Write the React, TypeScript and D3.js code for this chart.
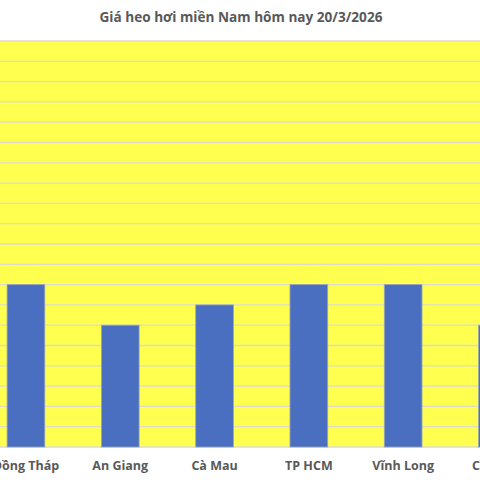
import React, { useEffect, useRef } from "react";
import * as d3 from "d3";

const title = "Giá heo hơi miền Nam hôm nay 20/3/2026";
const categories = ["Đồng Tháp", "An Giang", "Cà Mau", "TP HCM", "Vĩnh Long", "Cần Thơ"];
const prices = [58, 56, 57, 58, 58, 56]; // nghìn đồng/kg
const yMin = 50;
const yMax = 70;
const yTickStep = 1;

const W = 480;
const H = 480;
const plotTop = 41;
const plotBottom = 447;
const bandLeft = -21.2;
const bandRight = 544.6;

export default function App() {
  const ref = useRef<SVGSVGElement | null>(null);
  useEffect(() => {
    document.body.style.margin = "0";
    const svg = d3.select(ref.current);
    svg.selectAll("*").remove();

    const x = d3.scaleBand<string>().domain(categories).range([bandLeft, bandRight]).paddingInner(0.6).paddingOuter(0.3);
    const y = d3.scaleLinear().domain([yMin, yMax]).range([plotBottom, plotTop]);

    svg.append("rect").attr("x", 0).attr("y", 0).attr("width", W).attr("height", H).attr("fill", "#ffffff");
    svg.append("rect").attr("x", 0).attr("y", plotTop).attr("width", W).attr("height", plotBottom - plotTop).attr("fill", "#FFFF50");

    const ticks = d3.range(yMin, yMax + yTickStep / 2, yTickStep);
    svg.append("g").selectAll("line").data(ticks).join("line")
      .attr("x1", 0).attr("x2", W)
      .attr("y1", (d) => y(d)).attr("y2", (d) => y(d))
      .attr("stroke", "#DCDCC8").attr("stroke-width", 1.3);

    svg.append("g").selectAll("rect").data(categories).join("rect")
      .attr("x", (d) => x(d)!)
      .attr("width", x.bandwidth())
      .attr("y", (_d, i) => y(prices[i]))
      .attr("height", (_d, i) => plotBottom - y(prices[i]))
      .attr("fill", "#4A6FC0")
      .attr("stroke", "#9AA6B8").attr("stroke-width", 0.8);

    svg.append("g").selectAll("text").data(categories).join("text")
      .attr("x", (d) => x(d)! + x.bandwidth() / 2)
      .attr("y", 470)
      .attr("text-anchor", "middle")
      .attr("font-family", "'Open Sans', sans-serif")
      .attr("font-weight", 700)
      .attr("font-size", 12.5)
      .attr("fill", "#595959")
      .text((d) => d);

    svg.append("text")
      .attr("x", 241).attr("y", 22)
      .attr("text-anchor", "middle")
      .attr("font-family", "'Open Sans', sans-serif")
      .attr("font-weight", 700)
      .attr("font-size", 13.6)
      .attr("fill", "#595959")
      .text(title);
  }, []);
  return <svg ref={ref} width={W} height={H} style={{ display: "block" }} />;
}
